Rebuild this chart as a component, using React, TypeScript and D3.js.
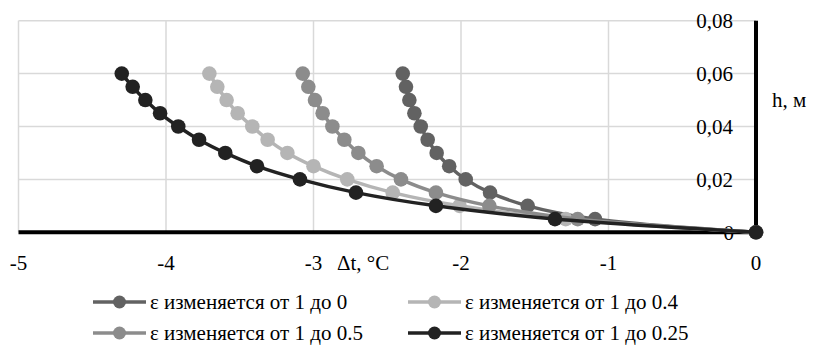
import React from "react";
import * as d3 from "d3";

const heights = [0.06, 0.055, 0.05, 0.045, 0.04, 0.035, 0.03, 0.025, 0.02, 0.015, 0.01, 0.005, 0];
const dtEps0 = [-2.395, -2.373, -2.35, -2.316, -2.273, -2.226, -2.165, -2.08, -1.968, -1.803, -1.548, -1.091, 0];
const dtEps04 = [-3.706, -3.652, -3.589, -3.514, -3.415, -3.311, -3.177, -3.0, -2.771, -2.463, -2.01, -1.29, 0];
const dtEps05 = [-3.073, -3.035, -2.99, -2.938, -2.872, -2.791, -2.696, -2.572, -2.407, -2.17, -1.808, -1.209, 0];
const dtEps025 = [-4.3, -4.226, -4.14, -4.04, -3.917, -3.776, -3.598, -3.383, -3.092, -2.712, -2.17, -1.363, 0];

const seriesNames = [
  "ε изменяется от 1 до 0",
  "ε изменяется от 1 до 0.4",
  "ε изменяется от 1 до 0.5",
  "ε изменяется от 1 до 0.25",
];
const seriesValues = [dtEps0, dtEps04, dtEps05, dtEps025];
const seriesColors = ["#626262", "#b5b5b5", "#8c8c8c", "#222222"];

const xTicks = [-5, -4, -3, -2, -1, 0];
const yTicks = [0.02, 0.04, 0.06, 0.08];
const yTickLabels = ["0,02", "0,04", "0,06", "0,08"];

const W = 819;
const H = 346;
const FS = 21;

function T(props: { x: number; y: number; anchor?: string; dy?: string; size?: number; children: React.ReactNode }) {
  return (
    <text
      x={props.x}
      y={props.y}
      dy={props.dy}
      textAnchor={props.anchor || "start"}
      style={{ fontFamily: "'Liberation Serif'", fontSize: props.size || FS }}
      fill="#000"
    >
      {props.children}
    </text>
  );
}

export default function App() {
  const x = d3.scaleLinear().domain([-5, 0]).range([18.5, 756]);
  const y = d3.scaleLinear().domain([0, 0.08]).range([232.3, 20.7]);
  const line = d3
    .line<[number, number]>()
    .x((d) => x(d[0]))
    .y((d) => y(d[1]))
    .curve(d3.curveCatmullRom.alpha(0.5));

  const legendCols = [93, 408];
  const legendRows = [302, 333];

  return (
    <svg
      width={W}
      height={H}
      style={{ position: "absolute", left: 0, top: 0, background: "#fff" }}
    >
      {xTicks.slice(0, -1).map((t) => (
        <line key={"gx" + t} x1={x(t)} x2={x(t)} y1={y(0.08)} y2={y(0)} stroke="#d9d9d9" strokeWidth={1.5} />
      ))}
      {yTicks.map((t) => (
        <line key={"gy" + t} x1={x(-5)} x2={x(0)} y1={y(t)} y2={y(t)} stroke="#d9d9d9" strokeWidth={1.5} />
      ))}
      <line x1={x(-5)} x2={x(0)} y1={y(0)} y2={y(0)} stroke="#000" strokeWidth={4} />
      <line x1={x(0)} x2={x(0)} y1={y(0.08)} y2={y(0)} stroke="#000" strokeWidth={4} />

      {yTicks.map((t, i) => (
        <T key={"yl" + t} x={733} y={y(t)} dy="0.35em" anchor="end">
          {yTickLabels[i]}
        </T>
      ))}
      <T x={734} y={y(0)} dy="0.35em" anchor="end">0</T>

      {seriesValues.map((vals, si) => {
        const pts: [number, number][] = vals.map((v, i) => [v, heights[i]]);
        return (
          <g key={"s" + si}>
            <path d={line(pts) || ""} fill="none" stroke={seriesColors[si]} strokeWidth={3.5} />
            {pts.map((p, i) => (
              <circle key={i} cx={x(p[0])} cy={y(p[1])} r={7.3} fill={seriesColors[si]} />
            ))}
          </g>
        );
      })}

      {xTicks.map((t) => (
        <T key={"xl" + t} x={x(t)} y={270} anchor="middle">
          {String(t)}
        </T>
      ))}
      <T x={337} y={270}>Δt, °C</T>
      <T x={772} y={107}>h, м</T>

      {seriesNames.map((name, i) => {
        const lx = legendCols[i % 2];
        const ly = legendRows[Math.floor(i / 2)];
        return (
          <g key={"lg" + i}>
            <line x1={lx} x2={lx + 53} y1={ly} y2={ly} stroke={seriesColors[i]} strokeWidth={3.5} />
            <circle cx={lx + 26.5} cy={ly} r={6.5} fill={seriesColors[i]} />
            <T x={lx + 57} y={ly} dy="0.33em">{name}</T>
          </g>
        );
      })}
    </svg>
  );
}
